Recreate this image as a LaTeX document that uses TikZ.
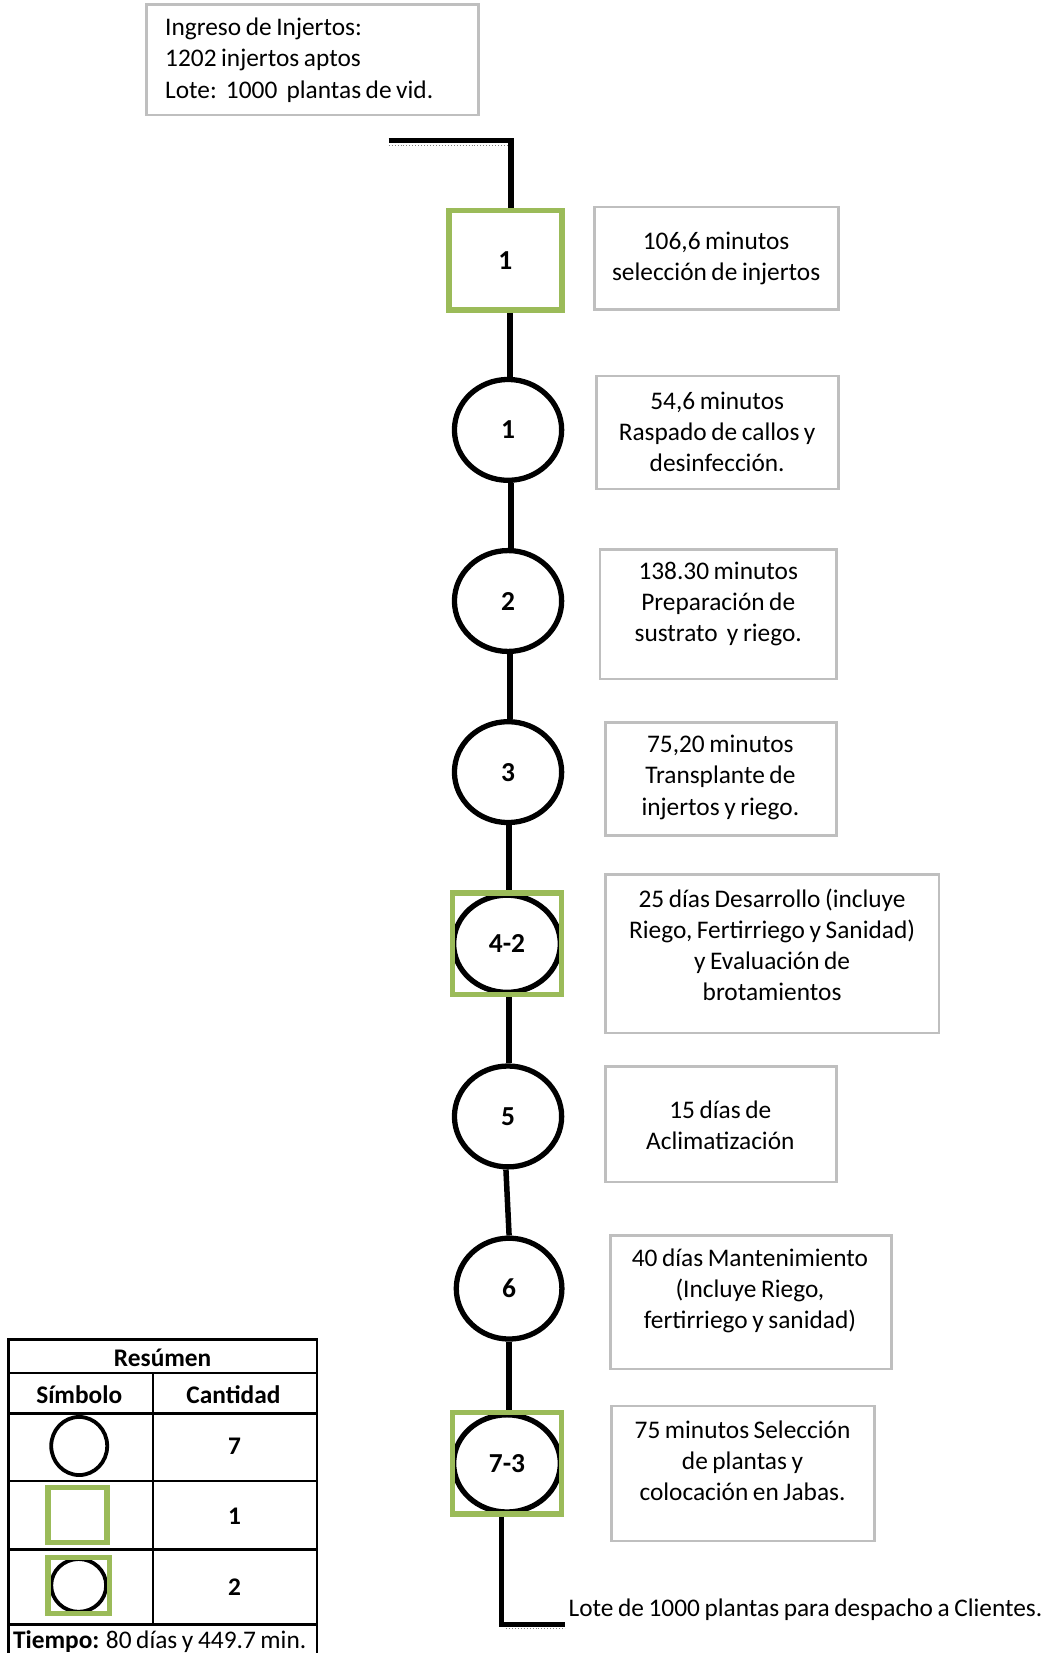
\documentclass[tikz,border=0pt]{standalone}
\usepackage{fontspec}
\setmainfont[WordSpace=0.8]{Carlito}
\usetikzlibrary{shapes.geometric}
\definecolor{vgreen}{HTML}{9BBB59}
\definecolor{bgray}{HTML}{BFBFBF}
\begin{document}
\begin{tikzpicture}[x=0.5pt,y=-0.5pt,
  txt/.style={font=\fontsize{12}{14.75}\selectfont, align=center, inner sep=0pt},
  opbox/.style={draw=bgray, line width=1.25pt, rectangle, inner sep=0pt, fill=white},
  opcirc/.style={draw=black, line width=2.5pt, ellipse, inner sep=0pt, fill=white,
     font=\fontsize{13}{14}\selectfont\bfseries},
  insp/.style={draw=vgreen, line width=2.6pt, rectangle, inner sep=0pt},
  flow/.style={draw=black, line width=2.6pt},
  ruler/.style={draw=gray, line width=0.4pt, densely dotted},
  tbl/.style={draw=black, line width=1.2pt},
  tlbl/.style={font=\fontsize{12}{14}\selectfont\bfseries, inner sep=0pt}
]
\useasboundingbox (0,0) rectangle (1000,1565);

% ---- top information box
\node[opbox, minimum width=157pt, minimum height=52.5pt] (info) at (296,56.5) {};
\node[txt, align=left, anchor=west] (infot) at (156,57)
  {Ingreso de Injertos:\\1202 injertos aptos\\Lote:\ \ 1000\ \ plantas de vid.};

% ---- flow symbols
\node[insp, minimum width=53.5pt, minimum height=47pt, font=\fontsize{13}{14}\selectfont\bfseries] (sq1) at (478.5,246.5) {1};
\node[opcirc, minimum width=50.75pt, minimum height=47.75pt] (c1) at (481,407) {1};
\node[opcirc, minimum width=50.75pt, minimum height=47.75pt] (c2) at (481,569) {2};
\node[opcirc, minimum width=50.75pt, minimum height=47.75pt] (c3) at (481,731) {3};
\node[opcirc, minimum width=50.5pt, minimum height=46pt] (c42) at (480,893.5) {4-2};
\node[insp, minimum width=51.5pt, minimum height=48pt] (s42) at (480,893.5) {};
\node[opcirc, minimum width=50.75pt, minimum height=47.75pt] (c5) at (481,1057) {5};
\node[opcirc, minimum width=50pt, minimum height=47.75pt] (c6) at (482,1220) {6};
\node[opcirc, minimum width=50.5pt, minimum height=46pt] (c73) at (480,1385.5) {7-3};
\node[insp, minimum width=51.5pt, minimum height=48pt] (s73) at (480,1385.5) {};

% ---- connectors
\coordinate (tl) at (368,133);
\coordinate (tstart) at (484,133);
\coordinate (bend) at (475,1538);
\coordinate (bfin) at (535,1538);
\draw[ruler] (368,138) -- (482,138);
\draw[ruler] (479,1542) -- (535,1542);
\draw[flow] (tl) -- (tstart) -- (sq1.north -| tstart);
\draw[flow] (sq1.south -| 483,0) -- (c1.north -| 483,0);
\draw[flow] (c1.south -| 484,0) -- (c2.north -| 484,0);
\draw[flow] (c2.south -| 483,0) -- (c3.north -| 483,0);
\draw[flow] (c3.south -| 482,0) -- (s42.north -| 482,0);
\draw[flow] (s42.south -| 482,0) -- (c5.north -| 482,0);
\draw[flow] (c5.south -| 479,0) -- (c6.north -| 482,0);
\draw[flow] (c6.south -| 482,0) -- (s73.north -| 482,0);
\draw[flow] (s73.south -| bend) -- (bend) -- (bfin);

% ---- description boxes
\node[opbox, minimum width=115.5pt, minimum height=48.5pt] (bA) at (678.5,244.5) {};
\node[txt] (tA) at (678,245) {106,6 minutos\\selección de injertos};
\node[opbox, minimum width=114.5pt, minimum height=53.5pt] (bB) at (679.5,409.5) {};
\node[txt] (tB) at (679,409) {54,6 minutos\\Raspado de callos y\\desinfección.};
\node[opbox, minimum width=112pt, minimum height=61.5pt] (bC) at (680,581.5) {};
\node[txt] (tC) at (680,572) {138.30 minutos\\Preparación de\\sustrato\ \ y riego.};
\node[opbox, minimum width=109.5pt, minimum height=53.5pt] (bD) at (682.5,737.5) {};
\node[txt] (tD) at (682,736) {75,20 minutos\\Transplante de\\injertos y riego.};
\node[opbox, minimum width=158pt, minimum height=75pt] (bE) at (731,903) {};
\node[txt] (tE) at (731,894.5) {25 días Desarrollo (incluye\\Riego, Fertirriego y Sanidad)\\y Evaluación de\\brotamientos};
\node[opbox, minimum width=109.5pt, minimum height=54.5pt] (bF) at (682.5,1064.5) {};
\node[txt] (tF) at (682,1065.5) {15 días de\\Aclimatización};
\node[opbox, minimum width=133pt, minimum height=63pt] (bG) at (711,1233) {};
\node[txt] (tG) at (710,1222) {40 días Mantenimiento\\(Incluye Riego,\\fertirriego y sanidad)};
\node[opbox, minimum width=124.5pt, minimum height=64pt] (bH) at (703.5,1395) {};
\node[txt] (tH) at (703,1383) {75 minutos Selección\\de plantas y\\colocación en Jabas.};

\node[txt, anchor=west] (dest) at (538,1524) {Lote de 1000 plantas para despacho a Clientes.};

% ---- summary table
\draw[tbl] (8,1570) -- (8,1268) -- (300,1268) -- (300,1570);
\draw[tbl] (8,1300) -- (300,1300);
\draw[tbl] (8,1338) -- (300,1338);
\draw[tbl] (8,1402) -- (300,1402);
\draw[tbl] (8,1467) -- (300,1467);
\draw[tbl] (8,1538) -- (300,1538);
\draw[tbl] (145,1300) -- (145,1538);
\node[tlbl] (hres) at (154,1286) {Resúmen};
\node[tlbl] (hsym) at (75,1320) {Símbolo};
\node[tlbl] (hcant) at (221,1320) {Cantidad};
\node[draw=black, line width=1.8pt, ellipse, inner sep=0pt, minimum width=26.5pt, minimum height=27.5pt] (ycirc) at (75,1369) {};
\node[tlbl] (n7) at (222,1369) {7};
\node[insp, minimum width=28pt, minimum height=26pt] (ysq) at (73.5,1434.5) {};
\node[tlbl] (n1) at (222,1436) {1};
\node[draw=black, line width=1.8pt, ellipse, inner sep=0pt, minimum width=26pt, minimum height=25pt] (ybothc) at (74.5,1501) {};
\node[insp, minimum width=29pt, minimum height=26.5pt] (ybothsq) at (74.5,1501) {};
\node[tlbl] (n2) at (222,1503) {2};
\node[txt, anchor=base west] (tiempo) at (12,1561) {\textbf{Tiempo:} 80 días y 449.7 min.};
\end{tikzpicture}
\end{document}
